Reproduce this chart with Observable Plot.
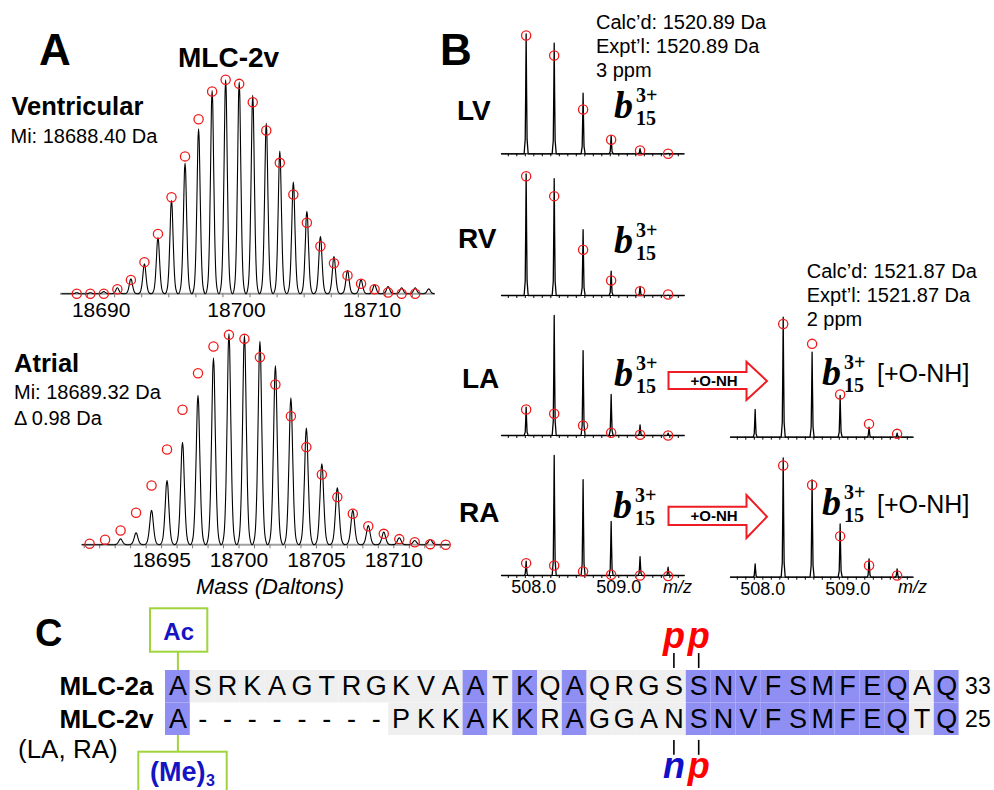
<!DOCTYPE html>
<html><head><meta charset="utf-8">
<script src="https://cdn.jsdelivr.net/npm/d3@7"></script>
<script src="https://cdn.jsdelivr.net/npm/@observablehq/plot@0.6"></script>
<style>
body{margin:0;background:#fff;}
#fig{position:relative;width:994px;height:790px;overflow:hidden;background:#fff;}
</style></head><body><div id="fig"></div>
<script>
// ---------------- DATA ----------------
// Panel A – Ventricular MLC-2v (mass in Da, relative intensity %)
const ventPeakMass = [18688.2,18689.2,18690.2,18691.2,18692.2,18693.2,18694.2,18695.2,18696.2,18697.2,18698.2,18699.2,18700.2,18701.2,18702.2,18703.2,18704.2,18705.2,18706.2,18707.2,18708.2,18709.2,18710.2,18711.2,18712.2,18713.2,18714.2];
const ventPeakInt  = [0.5,0.5,1,2.8,7,14,26.2,43.6,61.1,77.1,95,100,98.9,92.7,79.8,66.7,52.2,38.6,26.8,17.4,10.9,6.5,4.2,3.4,2.8,2.8,2.3];
const ventFitMass  = [18688.2,18689.2,18690.2,18691.2,18692.2,18693.2,18694.2,18695.2,18696.2,18697.2,18698.2,18699.2,18700.2,18701.2,18702.2,18703.2,18704.2,18705.2,18706.2,18707.2,18708.2,18709.2,18710.2,18711.2,18712.2,18713.2];
const ventFitInt   = [0,0,0,2.1,6.5,14.8,28,45.1,64.2,81.6,94.5,100,98.1,89.5,76.3,61.2,46.4,33.2,22.2,14.3,8.6,4.7,2.1,0.6,0,0];
const ventTickLabels = [18690, 18700, 18710];

// Panel A – Atrial MLC-2v
const atrPeakMass = [18690.35,18691.35,18692.35,18693.35,18694.35,18695.35,18696.35,18697.35,18698.35,18699.35,18700.35,18701.35,18702.35,18703.35,18704.35,18705.35,18706.35,18707.35,18708.35,18709.35,18710.35,18711.35,18712.35];
const atrPeakInt  = [0,0.2,2.8,5.7,16.3,30.5,48.6,70.8,88.6,100,99.2,96.5,85,69.7,55.3,38.4,27,16.3,9.1,6,3.3,2,2.5];
const atrFitMass  = [18690.35,18691.35,18692.35,18693.35,18694.35,18695.35,18696.35,18697.35,18698.35,18699.35,18700.35,18701.35,18702.35,18703.35,18704.35,18705.35,18706.35,18707.35,18708.35,18709.35,18710.35,18711.35,18712.35,18713.35];
const atrFitInt   = [0.5,2.4,6.8,15.2,28.1,45.2,64,81.3,94,99.5,97.6,88.9,76,60.9,46.3,33.3,22.6,14.7,8.8,5.2,2.7,1.2,0.3,0];
const atrTickLabels = [18695, 18700, 18705, 18710];

// Panel B – b15(3+) fragment isotopes (m/z, relative intensity %)
const bMz    = [507.91, 508.24, 508.58, 508.91, 509.25, 509.58];
const bOxMz  = [508.24, 508.58, 508.91, 509.25, 509.58];
const lvPeaks = [100, 92.2, 50.5, 15, 4.2, 0.4];
const lvFit   = [98.6, 81.9, 36.9, 11.7, 2.8, 0];
const rvPeaks = [101.4, 97.3, 54.8, 20.3, 7.5, 0.4];
const rvFit   = [99.4, 82.8, 38.1, 12.5, 3.6, 0.8];
const laPeaks = [23.6, 100, 70.8, 34.2, 8.9, 1.9];
const laFit   = [21.7, 18.1, 8.3, 2.3, 0.6, 0];
const raPeaks = [11.9, 100, 79.8, 45, 15.8, 6.9];
const raFit   = [10.3, 8.3, 3.3, 0.6, 0, -0.5];
const laOxPeaks = [23.1, 100, 70.8, 34.8, 8.3, 3.3];
const laOxFit   = [94.4, 77.8, 35.6, 11.1, 2.8];
const raOxPeaks = [11.1, 99.4, 81.1, 44.4, 15.3, 6.9];
const raOxFit   = [93.1, 76.9, 34.2, 9.8, 1.4];
const bTickLabels = [508, 509];

// Panel C – sequence alignment
const rowNames = ["MLC-2a", "MLC-2v"];
const seq2a = "ASRKAGTRGKVAATKQAQRGSSNVFSMFEQAQ".split("");
const seq2v = "A--------PKKAKKRAGGANSNVFSMFEQTQ".split("");
const rowEnds = [33, 25];
const topSites = [{col: 21, label: "p", color: "#ff0000"}, {col: 22, label: "p", color: "#ff0000"}];
const bottomSites = [{col: 21, label: "n", color: "#1010c8"}, {col: 22, label: "p", color: "#ff0000"}];

// ---------------- RENDER ----------------
const W = 994, H = 790;
const FONT = "'Liberation Sans', Arial, sans-serif";
const SERIF = "'Liberation Serif', 'DejaVu Serif', serif";
const RED = "#f01a1a", BLUE = "#8f8ff3", GRAY = "#efefef", GREEN = "#9fd43a", DARKBLUE = "#1414c4";
const fig = document.getElementById("fig");

function layer(o, marks) {
  const svg = Plot.plot({
    width: W, height: H,
    marginLeft: o.x0, marginRight: W - o.x1, marginTop: o.yTop, marginBottom: H - o.yBase,
    x: {domain: o.xDomain, axis: null},
    y: {domain: o.yDomain || [0, 100], axis: null, reverse: !!o.yReverse},
    style: {fontFamily: FONT, overflow: "visible"},
    marks
  });
  Object.assign(svg.style, {position: "absolute", left: "0px", top: "0px", maxWidth: "none", background: "transparent"});
  fig.appendChild(svg);
}

// peak line shapes (offset, fraction of peak height)
const shapeA = [[-0.5,0],[-0.38,0.02],[-0.28,0.09],[-0.19,0.3],[-0.11,0.64],[-0.05,0.92],[0,1],[0.05,0.92],[0.11,0.64],[0.19,0.3],[0.28,0.09],[0.38,0.02]];
const shapeB = [[-0.024,0],[-0.011,0.12],[-0.005,0.55],[0,1],[0.005,0.55],[0.011,0.12],[0.024,0]];

function profile(xs, ys, shape, start, end) {
  const pts = [{x: start, y: 0}];
  xs.forEach((c, i) => shape.forEach(([dx, f]) => pts.push({x: c + dx, y: ys[i] * f})));
  pts.push({x: end, y: 0});
  return pts;
}

function spectrum(c) {
  const prof = profile(c.px, c.py, c.shape, c.domain[0] + c.trim, c.domain[1] - c.trim);
  const fit = c.fx.map((x, i) => ({x, y: c.fy[i]}));
  layer({x0: c.x0, x1: c.x1, yTop: c.yBase - c.hPx, yBase: c.yBase, xDomain: c.domain}, [
    Plot.ruleY([0], {stroke: c.baseStroke, strokeWidth: c.baseWidth}),
    Plot.axisX({ticks: c.minor, tickSize: c.minorSize, tickFormat: () => "", stroke: c.tickStroke, label: null}),
    c.labels ? Plot.axisX({ticks: c.labels, tickSize: 0, tickPadding: c.labelPad, tickFormat: c.fmt, fontSize: c.labelSize, fill: "#000", label: null}) : null,
    Plot.line(prof, {x: "x", y: "y", stroke: "#000", strokeWidth: c.lw, curve: c.curve}),
    Plot.dot(fit, {x: "x", y: "y", r: 4.6, stroke: RED, strokeWidth: 1.3, fill: "none"})
  ]);
}

// Panel C alignment
const cells = [];
[seq2a, seq2v].forEach((seq, r) => seq.forEach((aa, i) => cells.push({row: r + 1, col: i + 1, aa, gap: aa === "-", same: seq2a[i] === seq2v[i]})));
layer({x0: 165, x1: 958.6, yTop: 670, yBase: 735, xDomain: [0.5, 32.5], yDomain: [0.5, 2.5], yReverse: true}, [
  Plot.rect(cells.filter(d => !d.gap), {x1: d => d.col - 0.5, x2: d => d.col + 0.5, y1: d => d.row - 0.5, y2: d => d.row + 0.5, fill: d => d.same ? BLUE : GRAY}),
  Plot.text(cells, {x: "col", y: "row", text: "aa", fontSize: 27, fill: "#000"}),
  Plot.text(rowNames, {x: () => 0.5, y: (d, i) => i + 1, text: d => d, dx: -12, textAnchor: "end", fontWeight: "bold", fontSize: 26, fill: "#000"}),
  Plot.text(rowEnds, {x: () => 32.5, y: (d, i) => i + 1, text: d => String(d), dx: 6, textAnchor: "start", fontSize: 23, fill: "#000"}),
  Plot.ruleX(topSites, {x: "col", y1: () => 1 - 1.02, y2: () => 1 - 0.56, stroke: "#000", strokeWidth: 1.6}),
  Plot.ruleX(bottomSites, {x: "col", y1: () => 2 + 0.65, y2: () => 2 + 1.11, stroke: "#000", strokeWidth: 1.6}),
  Plot.text(topSites, {x: "col", y: () => 1, dy: -50, text: "label", fill: "color", fontSize: 36, fontWeight: "bold", fontStyle: "italic"}),
  Plot.text(bottomSites, {x: "col", y: () => 2, dy: 47, text: "label", fill: "color", fontSize: 36, fontWeight: "bold", fontStyle: "italic"}),
  Plot.ruleX([1], {x: d => d, y1: () => -0.06, y2: () => 0.5, stroke: GREEN, strokeWidth: 2}),
  Plot.ruleX([1], {x: d => d, y1: () => 2.5, y2: () => 3.02, stroke: GREEN, strokeWidth: 2})
]);

// Panel A spectra
spectrum({x0: 60, x1: 435, yBase: 293.3, hPx: 214, domain: [18687, 18714.7], trim: 0.1,
  px: ventPeakMass, py: ventPeakInt, fx: ventFitMass, fy: ventFitInt, shape: shapeA, curve: "monotone-x", lw: 1.1,
  baseStroke: "#a0a0a0", baseWidth: 2, minor: [18689,18691,18693,18695,18697,18699,18701,18703,18705,18707,18709,18711,18713], minorSize: 4, tickStroke: "#777",
  labels: ventTickLabels, labelPad: 8.4, fmt: d => String(d), labelSize: 21});
spectrum({x0: 82, x1: 450, yBase: 544.3, hPx: 211, domain: [18689.89, 18713.66], trim: 0.1,
  px: atrPeakMass, py: atrPeakInt, fx: atrFitMass, fy: atrFitInt, shape: shapeA, curve: "monotone-x", lw: 1.1,
  baseStroke: "#a0a0a0", baseWidth: 2, minor: d3.range(18690, 18714), minorSize: 4, tickStroke: "#777",
  labels: atrTickLabels, labelPad: 7.4, fmt: d => String(d), labelSize: 21});

// Panel B spectra
const bDomain = [507.62, 509.77];
const bMinor = d3.ticks(507.62, 509.77, 20);
const bCommon = {domain: bDomain, trim: 0, shape: shapeB, curve: "linear", lw: 1.3, baseStroke: "#000", baseWidth: 1,
  minor: bMinor, minorSize: 3, tickStroke: "#000", hPx: 120, labelPad: 5, fmt: d => d.toFixed(1), labelSize: 18};
spectrum({...bCommon, x0: 501, x1: 683.75, yBase: 153.3, px: bMz, py: lvPeaks, fx: bMz, fy: lvFit});
spectrum({...bCommon, x0: 501, x1: 683.75, yBase: 295, px: bMz, py: rvPeaks, fx: bMz, fy: rvFit});
spectrum({...bCommon, x0: 501, x1: 683.75, yBase: 435, px: bMz, py: laPeaks, fx: bMz, fy: laFit});
spectrum({...bCommon, x0: 501, x1: 683.75, yBase: 575, px: bMz, py: raPeaks, fx: bMz, fy: raFit, labels: bTickLabels});
spectrum({...bCommon, x0: 730, x1: 912.75, yBase: 436.7, px: bMz, py: laOxPeaks, fx: bOxMz, fy: laOxFit});
spectrum({...bCommon, x0: 730, x1: 912.75, yBase: 576.7, px: bMz, py: raOxPeaks, fx: bOxMz, fy: raOxFit, labels: bTickLabels});

// ---------------- ANNOTATIONS ----------------
const ann = d3.create("svg").attr("width", W).attr("height", H)
  .style("position", "absolute").style("left", "0px").style("top", "0px");
function T(x, y, s, o = {}) {
  return ann.append("text").attr("x", x).attr("y", y)
    .attr("font-family", o.family || FONT).attr("font-size", o.size || 20)
    .attr("font-weight", o.weight || "normal").attr("font-style", o.style || "normal")
    .attr("text-anchor", o.anchor || "start").attr("fill", o.fill || "#000").text(s);
}
// Panel A text
T(39, 65, "A", {size: 44, weight: "bold"});
T(178, 66.7, "MLC-2v", {size: 28, weight: "bold"});
T(11.5, 115, "Ventricular", {size: 25.5, weight: "bold"});
T(10.5, 143.3, "Mi: 18688.40 Da", {size: 20});
T(14, 371.7, "Atrial", {size: 25.5, weight: "bold"});
T(14, 399.3, "Mi: 18689.32 Da", {size: 20});
T(14, 425, "\u0394 0.98 Da", {size: 20});
T(270, 594, "Mass (Daltons)", {size: 22, style: "italic", anchor: "middle"});
// Panel B text
T(440, 65, "B", {size: 44, weight: "bold"});
T(596, 29, "Calc\u2019d: 1520.89 Da"); T(596, 53, "Expt\u2019l: 1520.89 Da"); T(596, 77, "3 ppm");
T(806.7, 278.3, "Calc\u2019d: 1521.87 Da"); T(806.7, 302, "Expt\u2019l: 1521.87 Da"); T(806.7, 326, "2 ppm");
T(457, 120, "LV", {size: 28, weight: "bold"});
T(458, 248, "RV", {size: 28, weight: "bold"});
T(462, 388, "LA", {size: 28, weight: "bold"});
T(459, 522, "RA", {size: 28, weight: "bold"});
// b15 3+ ion label as a single text with stacked super/subscripts
function bLabel(x, y) {
  const t = ann.append("text").attr("x", x).attr("y", y).attr("font-family", SERIF).attr("font-weight", "bold").attr("fill", "#000");
  t.append("tspan").attr("font-size", 38).attr("font-style", "italic").text("b");
  t.append("tspan").attr("x", x + 22).attr("y", y - 16).attr("font-size", 20).text("3+");
  t.append("tspan").attr("x", x + 22).attr("y", y + 7).attr("font-size", 20).text("15");
}
bLabel(614, 118); bLabel(614, 253); bLabel(614, 386); bLabel(613, 518);
bLabel(822, 385); bLabel(822, 515);
T(877, 382, "[+O-NH]", {size: 25}); T(877, 513, "[+O-NH]", {size: 25});
T(663, 593, "m/z", {size: 18, style: "italic"}); T(898, 593, "m/z", {size: 18, style: "italic"});
function arrow(yTop, yBot, hTop, hBot, tip, textY) {
  ann.append("polygon").attr("points", [[668.5, yTop], [746.5, yTop], [746.5, hTop], [767, tip], [746.5, hBot], [746.5, yBot], [668.5, yBot]].map(p => p.join(",")).join(" "))
    .attr("fill", "#fff").attr("stroke", "#ee1c24").attr("stroke-width", 2);
  T(714, textY, "+O-NH", {size: 15, weight: "bold", anchor: "middle"});
}
arrow(372, 389, 361.7, 400, 381, 386);
arrow(506.7, 525, 495, 538, 516.7, 521);
// Panel C text
T(35, 646, "C", {size: 38, weight: "bold"});
ann.append("rect").attr("x", 150).attr("y", 608.3).attr("width", 57.3).attr("height", 43.4).attr("fill", "#fff").attr("stroke", GREEN).attr("stroke-width", 2);
T(178.7, 640, "Ac", {size: 24, weight: "bold", anchor: "middle", fill: DARKBLUE});
ann.append("rect").attr("x", 138.3).attr("y", 751.7).attr("width", 88.4).attr("height", 60).attr("fill", "#fff").attr("stroke", GREEN).attr("stroke-width", 2);
T(150, 781, "(Me)", {size: 27, weight: "bold", fill: DARKBLUE});
T(206, 786, "3", {size: 16, weight: "bold", fill: DARKBLUE});
T(18, 758.3, "(LA, RA)", {size: 26});
fig.appendChild(ann.node());
</script></body></html>
